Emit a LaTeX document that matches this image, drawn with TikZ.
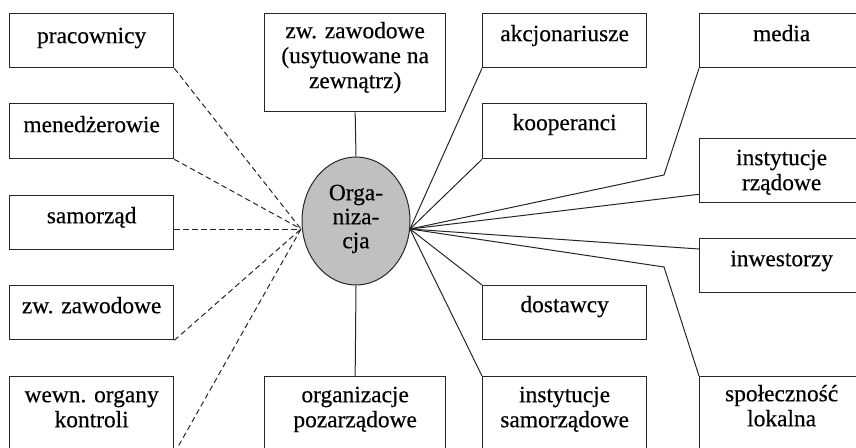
\documentclass[tikz,border=0pt]{standalone}
\usepackage{fontspec}
\setmainfont{Liberation Serif}[FakeBold=0.4]
\usetikzlibrary{shapes.geometric,calc}
\newcommand\mystrut{\rule{0pt}{18pt}}
\begin{document}
\begin{tikzpicture}[x=1pt,y=-1pt,
  box/.style={draw=black!85, line width=1.3pt, anchor=north west, inner sep=0pt, minimum height=#1},
  box/.default=54pt,
  colA/.style={minimum width=164pt},
  colB/.style={minimum width=181pt},
  txt/.style={anchor=north, inner sep=0pt, align=center, font=\fontsize{23.4}{25}\selectfont},
  conn/.style={draw=black!85, line width=1pt},
  dconn/.style={conn, dash pattern=on 5.5pt off 3.5pt}]
\useasboundingbox (0,0) rectangle (856,447);
\clip (0,0) rectangle (856,447);
% left column
\node[box, colA] (prac) at (9,13) {};
\node[box=55pt, colA] (mened) at (9,103) {};
\node[box, colA] (samo) at (9,195) {};
\node[box, colA] (zwz) at (9,285) {};
\node[box=76pt, colA] (wewn) at (9,376) {};
% center column
\node[box=98pt, colB] (zwzn) at (264,13) {};
\node[box=76pt, colB] (orgp) at (264,376) {};
% middle-right column
\node[box, colA] (akcj) at (482,13) {};
\node[box=55pt, colA] (koop) at (482,103) {};
\node[box, colA] (dost) at (482,285) {};
\node[box=76pt, colA] (insts) at (482,376) {};
% right column
\node[box, colA] (media) at (699,13) {};
\node[box=64pt, colA] (rzad) at (699,138) {};
\node[box, colA] (inw) at (699,238) {};
\node[box=76pt, colA] (spol) at (699,376) {};
% ellipse
\node[ellipse, draw=black!85, line width=1pt, fill={rgb,255:red,192;green,192;blue,192}, minimum width=108pt, minimum height=128pt, inner sep=0pt] (orga) at (356,221) {};
% texts
\node[txt] (prac-t) at ($(prac.north)+(0,12)$) {\mystrut pracownicy};
\node[txt] (mened-t) at ($(mened.north)+(0,11)$) {\mystrut menedżerowie};
\node[txt] (samo-t) at ($(samo.north)+(0,10)$) {\mystrut samorząd};
\node[txt] (zwz-t) at ($(zwz.north)+(0,10)$) {\mystrut zw. zawodowe};
\node[txt] (wewn-t) at ($(wewn.north)+(0,8)$) {\mystrut wewn. organy\\kontroli};
\node[txt] (zwzn-t) at ($(zwzn.north)+(0,7)$) {\mystrut zw. zawodowe\\(usytuowane na\\zewnątrz)};
\node[txt] (orgp-t) at ($(orgp.north)+(0,8)$) {\mystrut organizacje\\pozarządowe};
\node[txt] (akcj-t) at ($(akcj.north)+(0,10)$) {\mystrut akcjonariusze};
\node[txt] (koop-t) at ($(koop.north)+(0,9)$) {\mystrut kooperanci};
\node[txt] (dost-t) at ($(dost.north)+(0,9)$) {\mystrut dostawcy};
\node[txt] (insts-t) at ($(insts.north)+(0,8)$) {\mystrut instytucje\\samorządowe};
\node[txt] (media-t) at ($(media.north)+(0,10)$) {\mystrut media};
\node[txt] (rzad-t) at ($(rzad.north)+(0,9)$) {\mystrut instytucje\\rządowe};
\node[txt] (inw-t) at ($(inw.north)+(0,10)$) {\mystrut inwestorzy};
\node[txt] (spol-t) at ($(spol.north)+(0,7)$) {\mystrut społeczność\\lokalna};
\node[txt, font=\fontsize{23.4}{24}\selectfont] (orga-t) at (356,182) {\mystrut Orga-\\niza-\\cja};
% convergence points
\coordinate (L) at (301,229);
\coordinate (R) at (410,229);
\coordinate (mb) at (664,175);
\coordinate (sb) at (664,267);
% dashed connectors (left)
\draw[dconn] (prac.south east) -- (L);
\draw[dconn] (mened.south east) -- (L);
\draw[dconn] (samo.east |- L) -- (L);
\draw[dconn] (zwz.south east) -- (L);
\draw[dconn] (wewn.south east) -- (L);
% vertical connectors
\draw[conn] (zwzn.south) -- (orga.north);
\draw[conn] (orga.south) -- (orgp.north);
% right connectors
\draw[conn] (R) -- (akcj.south west);
\draw[conn] (R) -- (koop.south west);
\draw[conn] (R) -- (mb) -- (media.south west);
\draw[conn] (R) -- ($(rzad.south west)+(0,-9)$);
\draw[conn] (R) -- ($(inw.north west)+(0,11)$);
\draw[conn] (R) -- (dost.north west);
\draw[conn] (R) -- (insts.north west);
\draw[conn] (R) -- (sb) -- (spol.north west);
\end{tikzpicture}
\end{document}
